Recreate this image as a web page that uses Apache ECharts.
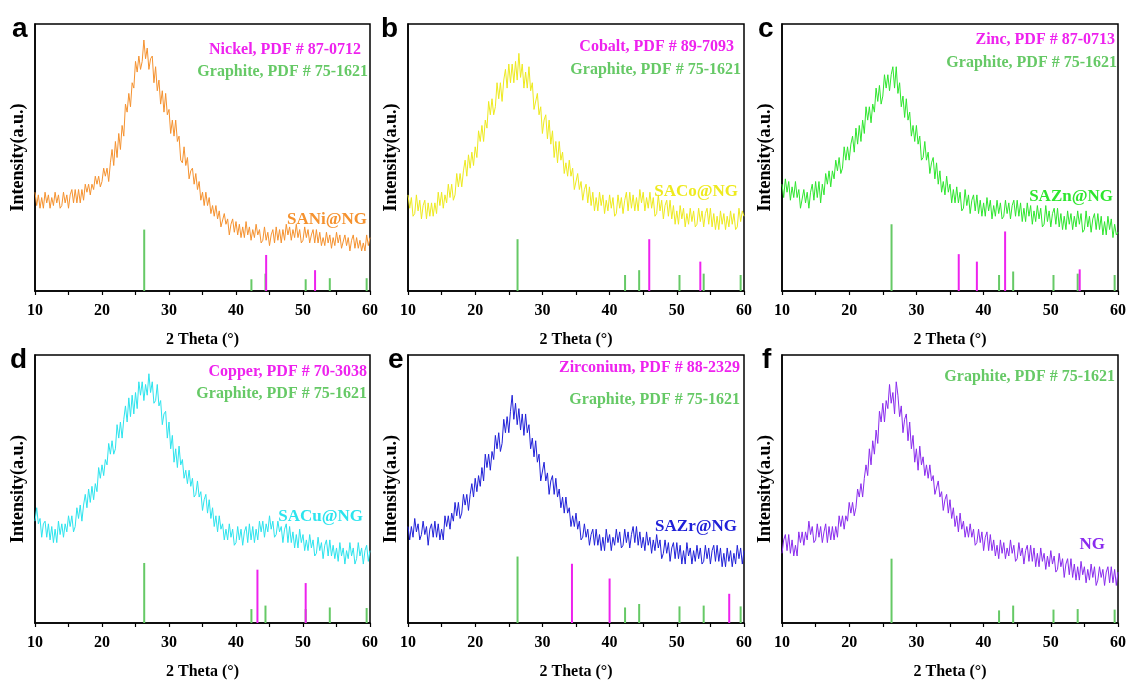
<!DOCTYPE html>
<html>
<head>
<meta charset="utf-8">
<script src="https://cdn.jsdelivr.net/npm/echarts@6/dist/echarts.min.js"></script>
<style>html,body{margin:0;padding:0;background:#fff;}#c{width:1129px;height:684px;}</style>
</head>
<body>
<div id="c"></div>
<script>
// ---- scan grid (2 Theta, degrees) ----
const thetaStart = 10;
const thetaStep = 0.25;
const xTicks = [10, 20, 30, 40, 50, 60];

// ---- measured intensities (a.u.), one value per step from 10 to 60 ----
const saNi = [37,32,36,31, 35,31,37,33, 36,31,35,32, 37,33,36,31, 32,37,33,36, 31,36,38,33, 38,33,38,33, 38,34,40,37, 40,36,40,38, 43,40,43,39,
  41,46,43,46, 41,48,53,47, 56,50,59,53, 62,58,70,67, 74,69,78,76, 86,82,88,83, 86,94,87,91, 83,87,88,78, 84,75,79,70, 75,67,74,66,
  68,59,64,58, 64,56,58,49, 48,54,47,50, 42,45,46,40, 44,38,41,34, 37,32,37,32, 35,29,32,28, 32,27,30,24, 24,29,25,27, 21,25,27,22,
  26,21,25,20, 24,20,26,21, 24,19,23,20, 25,21,23,18, 19,24,19,22, 17,21,23,18, 24,19,23,18, 23,19,25,21, 24,19,23,20, 25,20,23,18,
  19,24,20,23, 18,21,23,18, 23,18,22,17, 20,17,22,18, 21,16,20,17, 22,18,21,16, 16,21,17,20, 15,19,21,16, 20,16,19,15, 18,15,21,17, 20];
const saCo = [36,31,35,28, 29,36,30,34, 27,32,34,27, 33,28,33,28, 33,29,37,32, 37,31,36,33, 40,35,40,34, 36,44,39,44, 39,45,49,43, 51,46,52,47,
  54,50,60,56, 62,56,64,61, 71,66,72,66, 69,78,72,78, 71,79,83,76, 85,78,85,78, 86,79,89,80, 85,76,82,76, 84,75,78,68, 68,74,66,69,
  59,64,66,57, 64,55,60,50, 56,48,56,49, 52,44,48,43, 49,43,46,38, 38,44,38,41, 34,38,40,33, 39,32,37,30, 35,30,37,32, 36,29,34,30,
  36,31,35,28, 29,36,31,35, 29,34,37,30, 37,31,36,30, 35,30,38,33, 37,30,35,31, 37,31,35,28, 29,36,30,34, 27,32,34,28, 34,27,32,25,
  30,25,32,27, 31,24,29,25, 31,26,30,24, 25,31,26,30, 24,29,31,25, 31,24,29,23, 28,23,30,25, 29,23,28,24, 30,25,29,23, 24,31,26,30, 28];
const saZn = [40,35,42,37, 41,34,39,35, 41,35,38,31, 31,38,33,37, 31,37,40,34, 41,35,41,33, 40,36,44,40, 45,39,45,42, 49,45,50,44, 46,54,49,54,
  49,55,58,52, 61,55,62,56, 64,59,69,64, 69,63,70,67, 76,71,77,70, 73,81,76,81, 75,81,84,76, 84,74,78,69, 73,65,72,64, 67,58,62,56,
  62,55,58,49, 50,56,49,52, 44,48,50,42, 48,40,45,37, 41,36,43,37, 40,33,38,33, 39,33,37,30, 31,38,32,36, 29,34,36,30, 36,29,34,28,
  33,28,35,30, 34,27,32,28, 34,29,33,27, 28,34,29,33, 27,32,34,28, 34,28,33,26, 31,26,33,28, 32,25,30,26, 32,27,31,24, 25,32,26,30,
  24,29,31,25, 31,24,29,23, 28,23,30,25, 29,23,28,24, 30,25,29,22, 23,30,24,28, 22,27,29,23, 29,23,28,21, 26,21,28,23, 27,20,25,21, 22];
const saCu = [38,43,37,39, 32,37,38,32, 37,31,36,30, 35,30,38,33, 37,32,37,34, 40,36,40,34, 36,43,39,44, 38,44,48,43, 50,45,51,46, 52,49,58,54,
  59,55,61,59, 67,63,68,63, 65,74,69,75, 69,76,81,75, 84,77,85,78, 86,80,90,85, 90,83,89,85, 93,86,90,82, 83,89,81,83, 74,78,79,69,
  75,65,70,60, 65,58,66,59, 61,54,57,52, 57,51,54,47, 48,53,47,49, 42,46,48,41, 46,39,43,36, 40,34,40,35, 37,31,35,31, 37,32,35,29,
  30,36,31,35, 29,34,36,30, 37,31,36,30, 35,31,38,34, 38,32,37,34, 40,35,38,32, 33,38,34,36, 30,35,37,30, 36,30,34,28, 33,28,35,30,
  33,27,31,27, 33,28,31,25, 26,32,27,30, 24,29,31,25, 31,25,29,24, 28,23,30,25, 28,22,27,24, 30,25,28,22, 24,30,25,28, 22,27,29,23, 27];
const saZr = [36,31,36,32, 39,34,37,31, 33,38,33,36, 29,35,37,32, 38,32,37,31, 35,31,40,36, 40,35,41,38, 45,40,45,39, 41,48,44,48, 42,48,52,47,
  54,49,55,51, 58,53,63,58, 63,57,64,61, 70,65,71,64, 67,76,71,77, 71,79,85,76, 82,74,80,72, 78,70,78,71, 74,65,69,62, 68,60,63,53,
  53,60,53,56, 48,53,55,48, 54,47,50,43, 47,41,47,41, 43,36,40,36, 41,35,38,31, 32,37,32,35, 29,33,35,29, 35,29,33,27, 32,27,35,30,
  33,27,32,29, 35,30,34,28, 29,35,30,34, 28,33,36,30, 36,29,34,28, 32,27,34,29, 32,26,31,27, 33,28,31,24, 26,31,26,30, 23,28,30,24,
  30,24,29,22, 27,22,30,25, 28,22,27,23, 29,24,28,22, 23,29,24,28, 22,27,29,23, 29,23,28,21, 26,21,28,23, 27,21,26,22, 29,24,28,22, 27];
const ng = [26,31,33,27, 33,26,31,25, 29,25,34,30, 34,29,34,31, 38,33,36,30, 31,37,32,36, 30,34,37,30, 36,31,36,31, 36,32,40,36, 40,35,40,38,
  45,41,45,40, 43,50,47,52, 47,54,59,55, 65,59,68,63, 72,67,79,75, 82,75,83,80, 89,82,86,78, 90,85,77,81, 71,76,78,68, 75,65,70,60,
  65,57,66,59, 62,55,59,54, 59,53,55,48, 48,53,47,49, 42,46,48,41, 46,39,43,36, 40,34,41,35, 38,32,36,32, 37,32,35,29, 30,35,30,34,
  27,32,34,27, 33,27,31,25, 29,24,31,26, 30,24,28,25, 31,26,29,23, 24,30,25,28, 22,27,29,23, 29,23,28,21, 26,21,28,23, 26,20,25,21,
  27,22,25,19, 20,26,21,24, 17,22,24,18, 24,17,22,16, 21,16,23,18, 21,15,20,16, 22,17,21,14, 16,21,17,20, 14,19,21,15, 21,15,20,14, 19];

// ---- reference patterns (2 Theta, relative intensity) ----
const graphiteTheta = [26.3, 42.3, 44.4, 50.4, 54.0, 59.5];
const graphiteA = [23, 4.4, 6.5, 4.4, 4.8, 4.8];
const graphiteB = [19.4, 6, 7.8, 6, 6.5, 6];
const graphiteC = [25, 6, 7.3, 6, 6.5, 6];
const graphiteD = [22.4, 5.2, 6.5, 5.2, 5.8, 5.6];
const graphiteE = [24.8, 5.8, 7.1, 6.2, 6.5, 6.2];
const graphiteF = [24, 4.7, 6.5, 5, 5.2, 5];
const nickelTheta = [44.5, 51.8], nickelI = [13.5, 7.8];
const cobaltTheta = [45.9, 53.5], cobaltI = [19.4, 11];
const zincTheta = [36.3, 39.0, 43.2, 54.3], zincI = [13.8, 11, 22.3, 8.1];
const copperTheta = [43.2, 50.4], copperI = [19.9, 14.9];
const zirconTheta = [34.4, 40.0, 57.8], zirconI = [22.1, 16.6, 10.9];

// ---- texts ----
const panelLetters = ['a', 'b', 'c', 'd', 'e', 'f'];
const sampleNames = ['SANi@NG', 'SACo@NG', 'SAZn@NG', 'SACu@NG', 'SAZr@NG', 'NG'];
const metalLegends = ['Nickel, PDF # 87-0712', 'Cobalt, PDF # 89-7093', 'Zinc, PDF # 87-0713', 'Copper, PDF # 70-3038', 'Zirconium, PDF # 88-2329', null];
const graphiteLegend = 'Graphite, PDF # 75-1621';
const xTitle = '2 Theta (°)';
const yTitle = 'Intensity(a.u.)';

// ---- build ----
const SERIF = '"Liberation Serif", "Times New Roman", serif';
const SANS = '"Liberation Sans", Arial, sans-serif';
const MAGENTA = '#EE22EE';
const GREEN = '#66C966';

function pairs(vals) { return vals.map((v, i) => [thetaStart + i * thetaStep, v]); }
function zip(t, h) { return t.map((x, i) => [x, h[i]]); }

const panels = [
  { g: [35, 24, 335, 267], data: saNi, color: '#F5922F', gr: graphiteA, mt: nickelTheta, mi: nickelI,
    letter: [12, 15], name: [367, 220], m: [361, 50], gl: [368, 72] },
  { g: [408, 24, 336, 267], data: saCo, color: '#EEEA1E', gr: graphiteB, mt: cobaltTheta, mi: cobaltI,
    letter: [381, 15], name: [738, 192], m: [734, 47], gl: [741, 70] },
  { g: [782, 24, 336, 267], data: saZn, color: '#2EE62E', gr: graphiteC, mt: zincTheta, mi: zincI,
    letter: [758, 15], name: [1113, 197], m: [1115, 40], gl: [1117, 63] },
  { g: [35, 355, 335, 268], data: saCu, color: '#2CE4EE', gr: graphiteD, mt: copperTheta, mi: copperI,
    letter: [10, 346], name: [363, 517], m: [367, 372], gl: [367, 394] },
  { g: [408, 355, 336, 268], data: saZr, color: '#2020D8', gr: graphiteE, mt: zirconTheta, mi: zirconI,
    letter: [388, 346], name: [737, 527], m: [740, 368], gl: [740, 400] },
  { g: [782, 355, 336, 268], data: ng, color: '#8A2BEE', gr: graphiteF, mt: null, mi: null,
    letter: [762, 346], name: [1105, 545], m: null, gl: [1115, 377] }
];

const grid = [], xAxis = [], yAxis = [], series = [], graphic = [];
function stickSeries(idx, data, color) {
  return {
    type: 'custom', xAxisIndex: idx, yAxisIndex: idx, data: data, silent: true, z: 3,
    renderItem: function (params, api) {
      const p0 = api.coord([api.value(0), 0]);
      const p1 = api.coord([api.value(0), api.value(1)]);
      return { type: 'line', shape: { x1: p0[0], y1: p0[1], x2: p1[0], y2: p1[1] },
        style: { stroke: color, lineWidth: 2 } };
    }
  };
}
const axisTextStyle = { fontFamily: SERIF, fontWeight: 'bold', fontSize: 16, color: '#000' };
panels.forEach((p, i) => {
  grid.push({ left: p.g[0], top: p.g[1], width: p.g[2], height: p.g[3], show: true, borderColor: '#000', borderWidth: 1.5, backgroundColor: 'transparent' });
  xAxis.push({
    type: 'value', gridIndex: i, min: xTicks[0], max: xTicks[xTicks.length - 1], interval: xTicks[1] - xTicks[0],
    axisLine: { show: true, onZero: false, lineStyle: { color: '#000', width: 1.5 } },
    axisTick: { show: true, inside: false, length: 4, lineStyle: { color: '#000', width: 1.2 } },
    minorTick: { show: true, splitNumber: 2, length: 4, lineStyle: { color: '#000', width: 1.2 } },
    splitLine: { show: false },
    axisLabel: Object.assign({ margin: 12 }, axisTextStyle),
    name: xTitle, nameLocation: 'middle', nameGap: 41, nameTextStyle: axisTextStyle
  });
  yAxis.push({
    type: 'value', gridIndex: i, min: 0, max: 100,
    axisLine: { show: true, lineStyle: { color: '#000', width: 1.5 } },
    axisTick: { show: false }, axisLabel: { show: false }, splitLine: { show: false },
    name: yTitle, nameLocation: 'middle', nameGap: 8,
    nameTextStyle: Object.assign({}, axisTextStyle, { fontSize: 18 })
  });
  series.push({
    type: 'line', xAxisIndex: i, yAxisIndex: i, data: pairs(p.data), showSymbol: false, symbol: 'none',
    lineStyle: { color: p.color, width: 1 }, silent: true, z: 2
  });
  series.push(stickSeries(i, zip(graphiteTheta, p.gr), GREEN));
  if (p.mt) series.push(stickSeries(i, zip(p.mt, p.mi), MAGENTA));

  graphic.push({ type: 'text', left: p.letter[0], top: p.letter[1], style: { text: panelLetters[i], font: 'bold 28px ' + SANS, fill: '#000' } });
  graphic.push({ type: 'text', x: p.name[0], y: p.name[1], style: { text: sampleNames[i], font: 'bold 17px ' + SERIF, fill: p.color, align: 'right', verticalAlign: 'middle' } });
  if (p.m) graphic.push({ type: 'text', x: p.m[0], y: p.m[1], style: { text: metalLegends[i], font: 'bold 16px ' + SERIF, fill: MAGENTA, align: 'right', verticalAlign: 'middle' } });
  graphic.push({ type: 'text', x: p.gl[0], y: p.gl[1], style: { text: graphiteLegend, font: 'bold 16px ' + SERIF, fill: GREEN, align: 'right', verticalAlign: 'middle' } });
});

const chart = echarts.init(document.getElementById('c'), null, { renderer: 'canvas' });
chart.setOption({ animation: false, backgroundColor: '#fff', grid, xAxis, yAxis, series, graphic });
</script>
</body>
</html>
